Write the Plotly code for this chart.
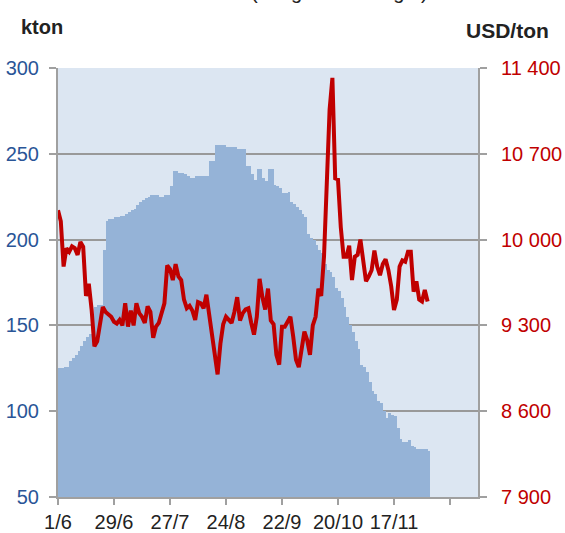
import plotly.graph_objects as go

# ---- data (trading-day index from 1/6) ----
stocks_kton = [125, 125, 126, 126, 129, 131, 133, 135, 138, 141,
               143, 145, 146, 161, 162, 162, 194, 211, 212, 212,
               213, 213, 214, 214, 215, 216, 217, 218, 220, 222,
               223, 224, 225, 226, 226, 226, 225, 225, 226, 226,
               231, 240, 240, 239, 239, 238, 237, 236, 236, 237,
               237, 237, 237, 237, 246, 246, 255, 255, 255, 255,
               254, 254, 254, 254, 253, 253, 253, 243, 243, 238,
               235, 241, 241, 236, 234, 241, 241, 232, 231, 230,
               227, 227, 228, 222, 221, 219, 217, 215, 213, 203,
               201, 200, 197, 194, 192, 186, 182, 181, 178, 172,
               170, 166, 161, 155, 150, 146, 141, 136, 127, 126,
               123, 117, 112, 110, 106, 105, 100, 96, 99, 98,
               97, 90, 84, 82, 82, 83, 80, 79, 78, 78,
               78, 78, 77]

price_usd = [10240, 10150, 9780, 9930, 9900, 9945, 9930, 9875, 9980, 9940,
             9540, 9640, 9430, 9130, 9170, 9300, 9450, 9410, 9385, 9370,
             9330, 9315, 9345, 9300, 9480, 9290, 9420, 9300, 9480, 9400,
             9370, 9320, 9455, 9410, 9200, 9290, 9320, 9400, 9480, 9790,
             9760, 9670, 9800, 9700, 9670, 9510, 9440, 9460, 9420, 9345,
             9490, 9480, 9440, 9550, 9400, 9250, 9100, 8900, 9150, 9310,
             9370, 9340, 9320, 9410, 9530, 9340, 9400, 9430, 9440, 9320,
             9225, 9370, 9680, 9530, 9430, 9600, 9340, 9310, 9060, 8980,
             9290, 9290, 9330, 9370, 9210, 9020, 8960, 9100, 9250, 9180,
             9060, 9300, 9370, 9600, 9540, 9860, 10430, 11060, 11320, 10500,
             10490, 10100, 9860, 9860, 9950, 9670, 9860, 9875, 10000, 9800,
             9660, 9700, 9750, 9910, 9780, 9710, 9800, 9840, 9750, 9620,
             9425, 9510, 9780, 9830, 9820, 9900, 9900, 9575, 9660, 9510,
             9495, 9590, 9495]

x_tick_pos = [0, 20, 40, 60, 80, 100, 120, 140]
x_tick_labels = ["1/6", "29/6", "27/7", "24/8", "22/9", "20/10", "17/11", ""]

left_ticks = [50, 100, 150, 200, 250, 300]
right_ticks = [7900, 8600, 9300, 10000, 10700, 11400]
right_tick_labels = ["7 900", "8 600", "9 300", "10 000", "10 700", "11 400"]

idx = list(range(len(stocks_kton)))

fig = go.Figure()
fig.add_trace(go.Bar(
    x=[i + 0.5 for i in idx], y=stocks_kton, width=1,
    marker=dict(color="#95b3d7", line=dict(width=0)),
    showlegend=False, hoverinfo="skip"))
fig.add_trace(go.Scatter(
    x=idx, y=price_usd, yaxis="y2", mode="lines",
    line=dict(color="#c00000", width=4),
    showlegend=False, hoverinfo="skip"))

font_family = "Liberation Sans, Arial, sans-serif"

fig.update_layout(
    width=565, height=533,
    margin=dict(l=58, r=87, t=68, b=36, autoexpand=False),
    paper_bgcolor="white",
    plot_bgcolor="#dce6f2",
    bargap=0,
    font=dict(family=font_family, size=20, color="#222222"),
    xaxis=dict(
        range=[0, 150], tickmode="array", tickvals=x_tick_pos,
        ticktext=x_tick_labels, ticks="outside", ticklen=6,
        tickwidth=2, tickcolor="#a0a0a0", automargin=False,
        showline=True, linecolor="#a0a0a0", linewidth=2,
        showgrid=False, zeroline=False,
        tickfont=dict(size=20, color="#222222")),
    yaxis=dict(
        range=[50, 300], tickmode="array", tickvals=left_ticks,
        ticks="outside", ticklen=7, tickwidth=2, tickcolor="#a0a0a0",
        showline=True, linecolor="#a0a0a0", linewidth=2, automargin=False,
        showgrid=True, gridcolor="#999999", gridwidth=2,
        zeroline=False, ticklabelstandoff=6,
        tickfont=dict(size=20, color="#2a5597")),
    yaxis2=dict(
        range=[7900, 11400], overlaying="y", side="right",
        tickmode="array", tickvals=right_ticks, ticktext=right_tick_labels,
        ticks="outside", ticklen=7, tickwidth=2, tickcolor="#a0a0a0",
        showline=True, linecolor="#a0a0a0", linewidth=2, automargin=False,
        showgrid=False, zeroline=False, ticklabelstandoff=10,
        tickfont=dict(size=20, color="#c00000")),
    annotations=[
        dict(text="(Long-term outright)", xref="paper", yref="paper",
             x=0.67, y=1.148, xanchor="center", yanchor="bottom",
             showarrow=False, font=dict(size=20, color="#222222")),
        dict(text="<b>kton</b>", xref="paper", yref="paper",
             x=-0.038, y=1.095, xanchor="center", yanchor="middle",
             showarrow=False, font=dict(size=20, color="#222222")),
        dict(text="<b>USD/ton</b>", xref="paper", yref="paper",
             x=1.07, y=1.088, xanchor="center", yanchor="middle",
             showarrow=False, font=dict(size=21, color="#222222")),
    ],
)

fig.write_html(
    "out.html",
    config={"displayModeBar": False},
    post_script="document.body.style.margin='0';"
                "document.body.style.overflow='hidden';")
